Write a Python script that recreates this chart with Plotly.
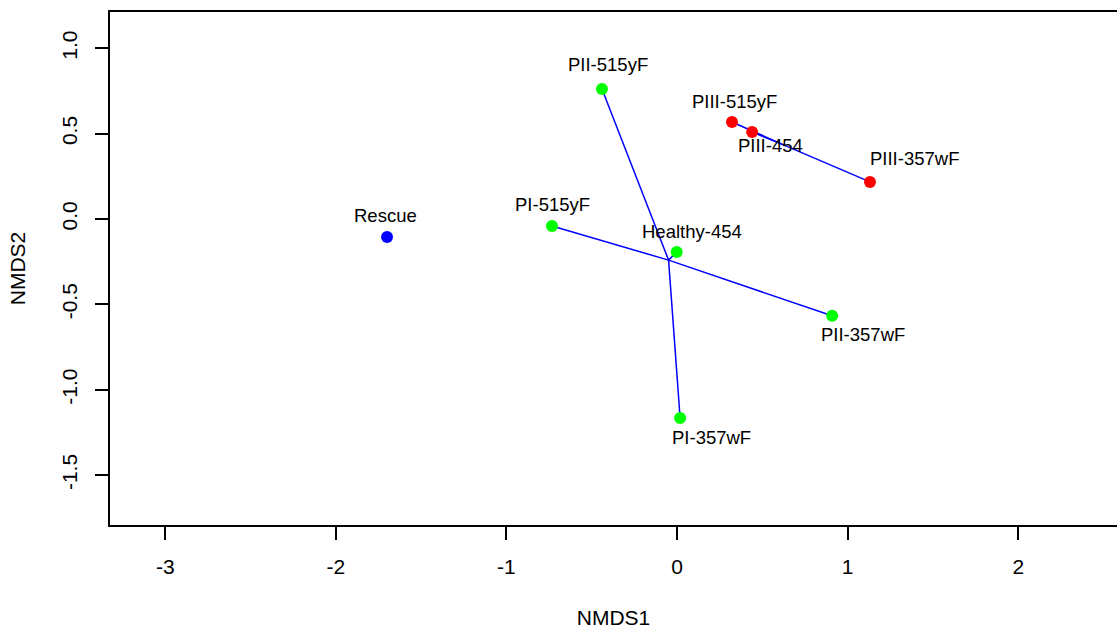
import plotly.graph_objects as go

# ---- data ----
labels = ["Rescue", "PI-515yF", "PII-515yF", "Healthy-454", "PI-357wF",
          "PII-357wF", "PIII-515yF", "PIII-454", "PIII-357wF"]
nmds1 = [-1.70, -0.733, -0.44, -0.002, 0.018, 0.909, 0.322, 0.44, 1.131]
nmds2 = [-0.105, -0.041, 0.761, -0.193, -1.165, -0.567, 0.568, 0.509, 0.217]
groups = ["Rescue", "P", "P", "P", "P", "P", "PIII", "PIII", "PIII"]
group_colors = {"Rescue": "#0000FF", "P": "#00FF00", "PIII": "#FF0000"}
spider_groups = ["P", "PIII"]

x_ticks = [-3, -2, -1, 0, 1, 2]
y_ticks = [-1.5, -1.0, -0.5, 0.0, 0.5, 1.0]
y_tick_text = ["-1.5", "-1.0", "-0.5", "0.0", "0.5", "1.0"]

# label offsets in pixels (dx, dy; positive dy = up)
label_offsets = {
    "Rescue": (-2, 21), "PI-515yF": (0, 21), "PII-515yF": (6, 25),
    "Healthy-454": (15, 20), "PI-357wF": (31, -20), "PII-357wF": (31, -19),
    "PIII-515yF": (3, 20), "PIII-454": (18, -13), "PIII-357wF": (45, 23),
}

fig = go.Figure()

# spider lines from group centroid to each member
for g in spider_groups:
    idx = [i for i, gg in enumerate(groups) if gg == g]
    cx = sum(nmds1[i] for i in idx) / len(idx)
    cy = sum(nmds2[i] for i in idx) / len(idx)
    xs, ys = [], []
    for i in idx:
        xs += [cx, nmds1[i], None]
        ys += [cy, nmds2[i], None]
    fig.add_trace(go.Scatter(x=xs, y=ys, mode="lines",
                             line=dict(color="#0000FF", width=1.5),
                             hoverinfo="skip", showlegend=False))

fig.add_trace(go.Scatter(
    x=nmds1, y=nmds2, mode="markers",
    marker=dict(size=12, color=[group_colors[g] for g in groups], line=dict(width=0)),
    text=labels, showlegend=False))

for lab, xv, yv in zip(labels, nmds1, nmds2):
    dx, dy = label_offsets[lab]
    fig.add_annotation(x=xv, y=yv, text=lab, showarrow=False,
                       xshift=dx, yshift=dy,
                       font=dict(family="Liberation Sans, Arial", size=18.5, color="black"))

font = dict(family="Liberation Sans, Arial", size=21, color="black")
fig.update_layout(
    width=1117, height=629,
    margin=dict(l=110, r=0, t=12, b=104),
    plot_bgcolor="white", paper_bgcolor="white",
    font=font,
    xaxis=dict(range=[-3.324, 2.579], tickvals=x_ticks, ticktext=[str(v) for v in x_ticks],
               showgrid=False, zeroline=False, showline=True, linecolor="black",
               linewidth=1.5, mirror=True, ticks="outside", ticklen=13, tickwidth=1.5,
               tickcolor="black", tickfont=font, ticklabelstandoff=9,
               title=dict(text="NMDS1", font=font, standoff=36)),
    yaxis=dict(range=[-1.792, 1.212], tickvals=y_ticks, ticktext=y_tick_text,
               showgrid=False, zeroline=False, showline=True, linecolor="black",
               linewidth=1.5, mirror=False, ticks="outside", ticklen=13, tickwidth=1.5,
               tickcolor="black", tickangle=-90, tickfont=font, ticklabelstandoff=10,
               title=dict(text="NMDS2", font=font, standoff=26)),
)

fig.write_html("out.html")
